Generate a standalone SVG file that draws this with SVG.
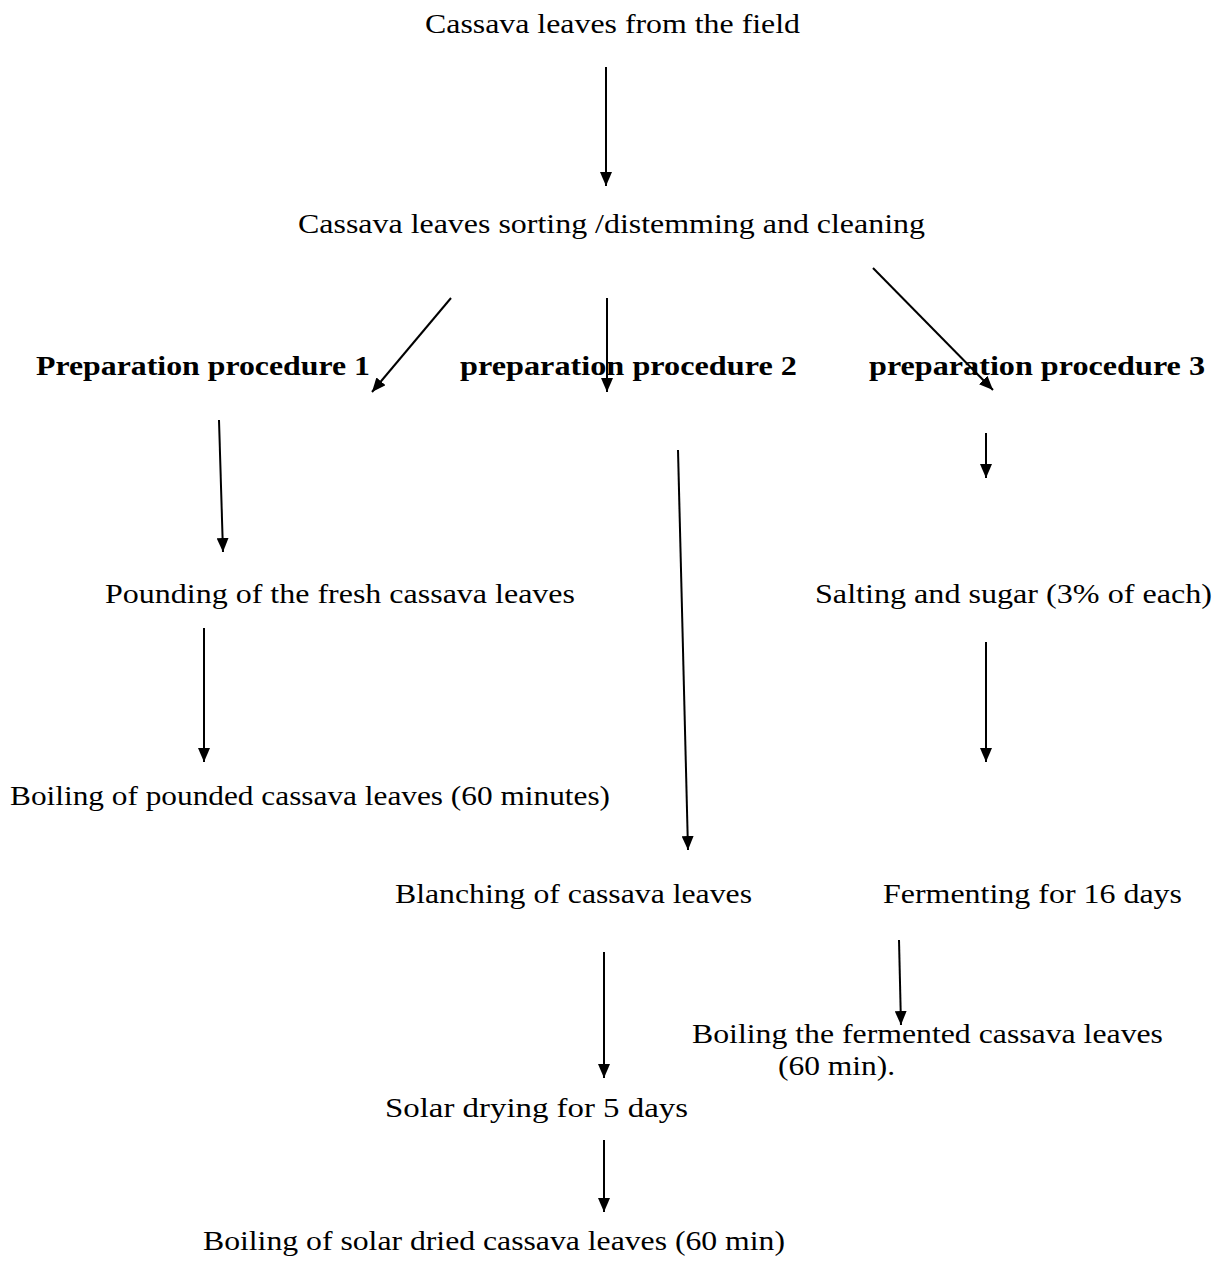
<svg xmlns="http://www.w3.org/2000/svg" width="1225" height="1261" viewBox="0 0 1225 1261">
<style>
text{font-size:28px;fill:#000}
.b{font-weight:bold}
.c line{stroke:#000;stroke-width:2;marker-end:url(#ah)}
</style>
<defs>
<marker id="ah" viewBox="0 0 14 12" refX="14" refY="6" markerWidth="14" markerHeight="12" markerUnits="userSpaceOnUse" orient="auto">
<path d="M0,0 L14,6 L0,12 z" fill="#000"/>
</marker>
</defs>
<rect width="1225" height="1261" fill="#fff"/>
<g class="c" id="connectors">
<line x1="606" y1="67" x2="606" y2="186"/>
<line x1="451" y1="298" x2="372" y2="392"/>
<line x1="607" y1="298" x2="607" y2="392"/>
<line x1="873" y1="268" x2="993" y2="390"/>
<line x1="219" y1="420" x2="223" y2="552"/>
<line x1="678" y1="450" x2="688" y2="850"/>
<line x1="986" y1="433" x2="986" y2="478"/>
<line x1="204" y1="628" x2="204" y2="762"/>
<line x1="986" y1="642" x2="986" y2="762"/>
<line x1="899" y1="940" x2="901" y2="1025"/>
<line x1="604" y1="952" x2="604" y2="1078"/>
<line x1="604" y1="1140" x2="604" y2="1212"/>
</g>
<g id="nodes" font-family="Liberation Serif">
<g id="n1"><text x="425" y="33" textLength="375" lengthAdjust="spacingAndGlyphs">Cassava leaves from the field</text></g>
<g id="n2"><text x="298" y="233" textLength="627" lengthAdjust="spacingAndGlyphs">Cassava leaves sorting /distemming and cleaning</text></g>
<g id="n3"><text class="b" x="36" y="375" textLength="334" lengthAdjust="spacingAndGlyphs">Preparation procedure 1</text></g>
<g id="n4"><text class="b" x="460" y="375" textLength="337" lengthAdjust="spacingAndGlyphs">preparation procedure 2</text></g>
<g id="n5"><text class="b" x="869" y="375" textLength="336" lengthAdjust="spacingAndGlyphs">preparation procedure 3</text></g>
<g id="n6"><text x="105" y="603" textLength="470" lengthAdjust="spacingAndGlyphs">Pounding of the fresh cassava leaves</text></g>
<g id="n7"><text x="815" y="603" textLength="397" lengthAdjust="spacingAndGlyphs">Salting and sugar (3% of each)</text></g>
<g id="n8"><text x="10" y="805" textLength="600" lengthAdjust="spacingAndGlyphs">Boiling of pounded cassava leaves (60 minutes)</text></g>
<g id="n9"><text x="395" y="903" textLength="357" lengthAdjust="spacingAndGlyphs">Blanching of cassava leaves</text></g>
<g id="n10"><text x="883" y="903" textLength="299" lengthAdjust="spacingAndGlyphs">Fermenting for 16 days</text></g>
<g id="n11"><text x="692" y="1043" textLength="471" lengthAdjust="spacingAndGlyphs">Boiling the fermented cassava leaves</text><text x="778" y="1075" textLength="117" lengthAdjust="spacingAndGlyphs">(60 min).</text></g>
<g id="n12"><text x="385" y="1117" textLength="303" lengthAdjust="spacingAndGlyphs">Solar drying for 5 days</text></g>
<g id="n13"><text x="203" y="1250" textLength="582" lengthAdjust="spacingAndGlyphs">Boiling of solar dried cassava leaves (60 min)</text></g>
</g>
</svg>
